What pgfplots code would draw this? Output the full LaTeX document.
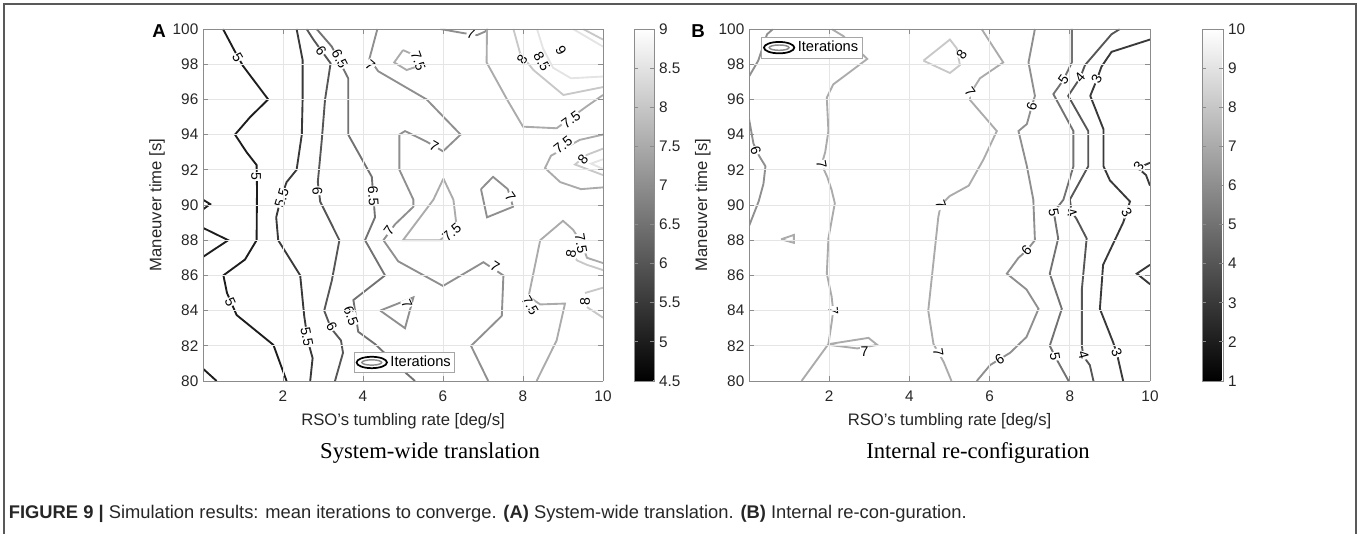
\documentclass[border=0pt]{standalone}
\usepackage{fontspec}
\setmainfont{Liberation Sans}
\newfontfamily\timesfont{Liberation Serif}
\usepackage{pgfplots}
\pgfplotsset{compat=1.18}

\tikzset{clab/.style={font=\fontsize{10.5}{11}\selectfont, fill=white, inner sep=0.4pt, text=black}}
\pgfplotsset{
  panel/.style={
    scale only axis, width=300pt, height=264pt, anchor=south west,
    view={0}{90},
    xmin=0, xmax=10, ymin=80, ymax=100,
    xtick={2,4,6,8,10}, ytick={80,82,...,100},
    grid=major, major grid style={black!10, line width=0.6pt},
    axis line style={black!45, line width=0.6pt},
    tick style={black!45, line width=0.6pt}, major tick length=4pt,
    tick label style={font=\fontsize{11.5}{12}\selectfont, text=black!85},
    xticklabel style={yshift=-4pt},
    label style={font=\fontsize{12.5}{14}\selectfont, text=black!85},
    /pgf/number format/assume math mode=true,
    xlabel={RSO's tumbling rate [deg/s]},
    ylabel={Maneuver time [s]},
    xlabel style={at={(axis description cs:0.5,-0.1136)}, anchor=center},
    colormap/blackwhite,
    colorbar,
    legend style={draw=black!35, fill=white, line width=0.6pt,
      font=\fontsize{11}{12}\selectfont, inner sep=1pt, anchor=center},
  },
  cbar/.style={
    scale only axis, width=15pt, height=264pt,
    at={(parent axis.north east)}, anchor=north west, xshift=15pt,
    axis line style={black!45, line width=0.6pt},
    tick style={black!45, line width=0.6pt}, major tick length=3pt,
    yticklabel style={font=\fontsize{11.5}{12}\selectfont, text=black!85},
    /pgf/number format/assume math mode=true,
  },
  lvl/.style={contour prepared={labels=false}, contour prepared format=standard,
    line width=1.4pt, forget plot},
  itlegend/.style={legend image code/.code={
    \draw[black, line width=1.3pt] (0.42cm,0) ellipse (0.4cm and 0.15cm);
    \draw[black!45, line width=1.1pt] (0.42cm,0) ellipse (0.26cm and 0.07cm);}},
}

\begin{document}
\begin{tikzpicture}

% ---------------- (A) System-wide translation ----------------
\begin{axis}[panel, at={(152.25pt,114.75pt)},
  ylabel style={at={(axis description cs:-0.115,0.5)}, anchor=center},
  point meta min=4.5, point meta max=9,
  colorbar style={cbar, ytick={4.5,5,...,9}},
  legend style={at={(0.504,0.0526)}}]
\addplot3[lvl] table {
x y z
0.5 100 5
0.78 98.8 5
1.0 97.9 5
1.63 96.0 5
1.18 95.0 5
0.8 94.0 5
1.09 93.0 5
1.34 92.27 5
1.35 90.9 5
1.34 88.0 5
1.05 86.9 5
0.51 86.0 5
0.6 85.0 5
0.84 83.75 5
1.76 82.05 5
2.09 80.0 5

0 90.3 5
0.18 90.05 5
0 89.75 5

0 88.7 5
0.63 88.0 5
0 87.05 5

0 80.7 5
0.34 80.0 5

2.34 100 5.5
2.49 98.24 5.5
2.49 95.97 5.5
2.47 94.0 5.5
2.34 92.0 5.5
2.09 91.3 5.5
1.95 90.4 5.5
1.83 89.3 5.5
1.88 88.0 5.5
2.43 86.0 5.5
2.53 83.7 5.5
2.62 82.3 5.5
2.74 81.3 5.5
2.68 80.0 5.5

2.59 100 6
2.76 99.4 6
3.19 98.05 6
3.05 95.97 6
2.97 93.7 6
2.87 91.3 6
2.93 90.19 6
3.41 88.0 6
3.22 85.7 6
3.03 84.0 6
3.2 83.0 6
3.45 82.3 6
3.5 81.6 6
3.3 80.0 6

2.84 100 6.5
3.22 99.0 6.5
3.63 97.2 6.5
3.63 94.0 6.5
4.22 91.6 6.5
4.3 89.3 6.5
4.05 88.0 6.5
4.55 86.0 6.5
3.76 84.6 6.5
3.88 82.8 6.5
4.3 82.1 6.5
5.0 80.6 6.5
5.3 80.0 6.5

4.36 100 7
4.16 98.3 7
4.38 97.6 7
5.59 96.0 7
6.44 94.0 7
6.0 93.05 7
5.59 93.6 7
5.05 94.2 7
4.91 94.0 7
4.91 92.0 7
5.26 90.3 7
5.26 89.9 7
4.8 88.9 7
4.51 88.0 7
4.88 86.8 7
6.0 85.4 7
6.75 86.4 7
7.01 86.75 7
7.51 86.0 7
7.47 83.7 7
6.84 82.3 7
6.7 82.0 7
7.13 80.0 7

5.93 100 7
6.5 99.77 7
6.85 99.65 7
7.05 99.85 7
7.13 100 7

4.43 84.0 7
5.26 84.75 7
5.05 83.0 7
4.43 84.0 7

6.95 90.9 7
7.25 91.6 7
7.62 90.9 7
7.75 89.9 7
7.1 89.3 7
6.95 90.9 7

5.0 98.8 7.5
5.3 98.5 7.5
5.34 97.86 7.5
5.09 97.67 7.5
4.78 98.1 7.5
5.0 98.8 7.5

6.01 91.5 7.5
5.76 90.3 7.5
5.0 88.0 7.5
5.93 88.0 7.5
6.34 88.8 7.5
6.26 90.3 7.5
6.01 91.5 7.5

7.1 100 7.5
7.09 98.1 7.5
7.6 96.0 7.5
8.0 94.45 7.5
8.84 94.36 7.5
9.59 95.6 7.5
10 96.25 7.5

10 94.0 7.5
9.42 93.7 7.5
8.7 92.8 7.5
8.55 92.1 7.5
8.93 91.3 7.5
9.45 90.9 7.5
10 91.0 7.5

8.34 80.0 7.5
8.84 82.3 7.5
9.05 84.4 7.5
8.43 84.35 7.5
8.14 84.8 7.5
8.43 88.0 7.5
9.0 89.1 7.5
9.25 88.6 7.5
9.45 87.9 7.5
9.6 87.0 7.5
10 86.7 7.5

7.76 100 8
7.93 98.6 8
8.26 97.67 8
9.01 96.25 8
10 96.7 8

9.5 100 8
10 99.4 8

10 93.2 8
9.6 92.85 8
9.3 92.3 8
10 91.7 8

9.2 87.3 8
9.35 86.85 8
9.6 86.6 8
10 86.3 8

9.55 85.0 8
10 85.3 8

9.6 84.2 8
10 83.6 8

8.35 100 8.5
8.5 98.9 8.5
8.75 97.8 8.5
9.2 97.2 8.5
10 97.3 8.5

9.25 100 8.5
10 99.0 8.5

10 92.6 8.5
9.7 92.35 8.5
10 92.05 8.5
};
\addlegendimage{itlegend}
\addlegendentry{Iterations}
\node[clab, rotate=-60] at (axis cs:0.87,98.4,5) {5};
\node[clab, rotate=-90] at (axis cs:1.33,91.6,5) {5};
\node[clab, rotate=-66] at (axis cs:0.68,84.5,5) {5};
\node[clab, rotate=73] at (axis cs:1.97,90.4,5) {5.5};
\node[clab, rotate=-79] at (axis cs:2.6,82.5,5) {5.5};
\node[clab, rotate=-54] at (axis cs:2.95,98.75,5) {6};
\node[clab, rotate=-87] at (axis cs:2.86,90.8,5) {6};
\node[clab, rotate=-61] at (axis cs:3.22,83.1,5) {6};
\node[clab, rotate=-63] at (axis cs:3.42,98.3,5) {6.5};
\node[clab, rotate=-86] at (axis cs:4.26,90.5,5) {6.5};
\node[clab, rotate=-70] at (axis cs:3.7,83.7,5) {6.5};
\node[clab, rotate=-40] at (axis cs:4.18,97.95,5) {7};
\node[clab, rotate=-30] at (axis cs:5.78,93.35,5) {7};
\node[clab, rotate=54] at (axis cs:4.65,88.55,5) {7};
\node[clab, rotate=-33] at (axis cs:7.3,86.5,5) {7};
\node[clab, rotate=-15] at (axis cs:6.7,99.7,5) {7};
\node[clab, rotate=-65] at (axis cs:5.1,84.4,5) {7};
\node[clab, rotate=-55] at (axis cs:7.68,90.45,5) {7};
\node[clab, rotate=-70] at (axis cs:5.38,98.2,5) {7.5};
\node[clab, rotate=40] at (axis cs:6.22,88.45,5) {7.5};
\node[clab, rotate=36] at (axis cs:9.2,94.85,5) {7.5};
\node[clab, rotate=38] at (axis cs:9.0,93.4,5) {7.5};
\node[clab, rotate=-60] at (axis cs:8.18,84.3,5) {7.5};
\node[clab, rotate=-80] at (axis cs:9.45,87.8,5) {7.5};
\node[clab, rotate=55] at (axis cs:7.98,98.25,5) {8};
\node[clab, rotate=-60] at (axis cs:8.47,98.15,5) {8.5};
\node[clab, rotate=-60] at (axis cs:8.95,98.8,5) {9};
\node[clab, rotate=50] at (axis cs:9.5,92.6,5) {8};
\node[clab, rotate=80] at (axis cs:9.2,87.2,5) {8};
\node[clab, rotate=90] at (axis cs:9.55,84.5,5) {8};
\end{axis}

% ---------------- (B) Internal re-configuration ----------------
\begin{axis}[panel, at={(561.75pt,114.75pt)}, width=300.75pt,
  ylabel style={at={(axis description cs:-0.115,0.5)}, anchor=center},
  point meta min=1, point meta max=10,
  colorbar style={cbar, xshift=15.75pt, width=15.75pt, ytick={1,...,10}},
  legend style={at={(0.157,0.947)}}]
\addplot3[lvl] table {
x y z
0.6 100 6
0.45 99.7 6
0.23 98.2 6
0 97.3 6

0 94.9 6
0.11 93.5 6
0.25 92.8 6
0.41 92.2 6
0.36 91.2 6
0.24 90.2 6
0 88.8 6

7.13 100 6
6.97 98.1 6
7.13 96.2 6
7.05 95.6 6
6.93 94.6 6
6.72 94.2 6
6.93 92.2 6
7.09 90.3 6
7.13 88.0 6
6.92 87.4 6
6.72 87.0 6
6.43 86.1 6
6.92 85.2 6
7.22 84.1 6
6.92 82.5 6
6.51 81.6 6
6.22 81.2 6
6.01 80.9 6
5.68 80.0 6

2.06 100 7
2.35 99.6 7
2.95 98.3 7
2.1 96.85 7
1.94 96.1 7
1.98 94.2 7
1.9 93.0 7
1.81 92.3 7
1.95 91.6 7
2.06 90.85 7
2.14 90.1 7
1.98 88.1 7
1.94 86.1 7
2.06 84.8 7
2.1 84.0 7
2.06 83.3 7
1.98 82.1 7
1.31 80.0 7

2.0 82.1 7
2.98 82.45 7
3.2 82.05 7
2.7 81.85 7
2.0 82.05 7

5.8 100 7
6.34 98.1 7
5.76 97.2 7
5.51 96.3 7
5.51 95.97 7
6.18 94.2 7
5.85 92.6 7
5.48 91.1 7
5.0 90.5 7
4.78 90.0 7
4.72 89.3 7
4.47 84.0 7
4.6 82.1 7
4.85 81.1 7
5.05 80.0 7

0.8 88.05 7
1.12 88.3 7
1.12 87.85 7
0.8 88.05 7

4.35 98.2 8
5.01 99.4 8
5.18 98.9 8
5.26 97.95 8
5.01 97.5 8
4.35 98.2 8

8.05 100 5
8.05 98.1 5
7.84 97.1 5
7.59 96.3 5
8.09 94.2 5
8.09 92.2 5
7.84 90.3 5
7.6 89.6 5
7.71 88.1 5
7.5 86.1 5
7.8 84.1 5
7.5 82.0 5
7.63 81.4 5
7.97 80.0 5

9.25 100 4
9.04 99.7 4
8.38 97.95 4
8.25 97.2 4
7.96 96.2 4
8.46 94.2 4
8.46 92.2 4
8.0 90.3 4
8.05 89.6 4
8.17 89.2 4
8.42 88.1 4
8.3 85.2 4
8.3 82.0 4
8.34 81.4 4
8.5 80.9 4
8.59 80.0 4

10 99.4 3
9.04 98.7 3
8.79 97.86 3
8.67 97.1 3
8.51 96.2 3
8.84 94.3 3
8.84 92.2 3
9.0 91.4 3
9.5 90.2 3
9.42 89.6 3
9.33 89.0 3
8.83 86.6 3
8.75 84.1 3
9.08 82.2 3
9.17 81.6 3
9.33 80.0 3

10 92.4 3
9.85 92.25 3
9.7 92.1 3
9.9 91.7 3
10 91.1 3

10 86.6 3
9.67 86.1 3
10 85.5 3
};
\addlegendimage{itlegend}
\addlegendentry{Iterations}
\node[clab, rotate=-70] at (axis cs:0.17,93.1,5) {6};
\node[clab, rotate=74] at (axis cs:7.05,95.6,5) {6};
\node[clab, rotate=47] at (axis cs:6.92,87.45,5) {6};
\node[clab, rotate=32] at (axis cs:6.25,81.25,5) {6};
\node[clab, rotate=-80] at (axis cs:1.81,92.3,5) {7};
\node[clab, rotate=-85] at (axis cs:2.1,84.0,5) {7};
\node[clab] at (axis cs:2.88,81.65,5) {7};
\node[clab, rotate=-55] at (axis cs:5.51,96.45,5) {7};
\node[clab, rotate=-70] at (axis cs:4.78,90.0,5) {7};
\node[clab, rotate=-80] at (axis cs:4.72,81.6,5) {7};
\node[clab, rotate=55] at (axis cs:5.3,98.55,5) {8};
\node[clab, rotate=55] at (axis cs:7.84,97.15,5) {5};
\node[clab, rotate=50] at (axis cs:8.25,97.25,5) {4};
\node[clab, rotate=65] at (axis cs:8.67,97.15,5) {3};
\node[clab, rotate=-80] at (axis cs:7.6,89.6,5) {5};
\node[clab, rotate=-70] at (axis cs:8.05,89.6,5) {4};
\node[clab, rotate=-60] at (axis cs:9.42,89.6,5) {3};
\node[clab, rotate=-80] at (axis cs:7.63,81.4,5) {5};
\node[clab, rotate=-75] at (axis cs:8.34,81.45,5) {4};
\node[clab, rotate=-70] at (axis cs:9.17,81.6,5) {3};
\node[clab, rotate=50] at (axis cs:9.72,92.2,5) {3};
\end{axis}

% panel letters, sub-titles, caption and frame
\node[font=\fontsize{14}{16}\selectfont\bfseries] at (119.25pt,377.25pt) {A};
\node[font=\fontsize{14}{16}\selectfont\bfseries] at (523.5pt,377.25pt) {B};
\node[font=\timesfont\fontsize{17}{19}\selectfont] at (322.5pt,60.75pt) {System-wide translation};
\node[font=\timesfont\fontsize{17}{19}\selectfont] at (733.5pt,60.75pt) {Internal re-configuration};
\node[anchor=west, font=\fontsize{13.75}{15}\selectfont, text=black!85, inner sep=0pt] at (6.5pt,15pt)
  {\textbf{FIGURE 9 |} Simulation results: mean iterations to converge. \textbf{(A)} System-wide translation. \textbf{(B)} Internal re-con-guration.};
\draw[black!65, line width=1.1pt] (3pt,-5pt) -- (3pt,397.5pt) -- (1017pt,397.5pt) -- (1017pt,-5pt);
\pgfresetboundingbox
\path (0pt,0pt) rectangle (1022.25pt,400.5pt);
\end{tikzpicture}
\end{document}
